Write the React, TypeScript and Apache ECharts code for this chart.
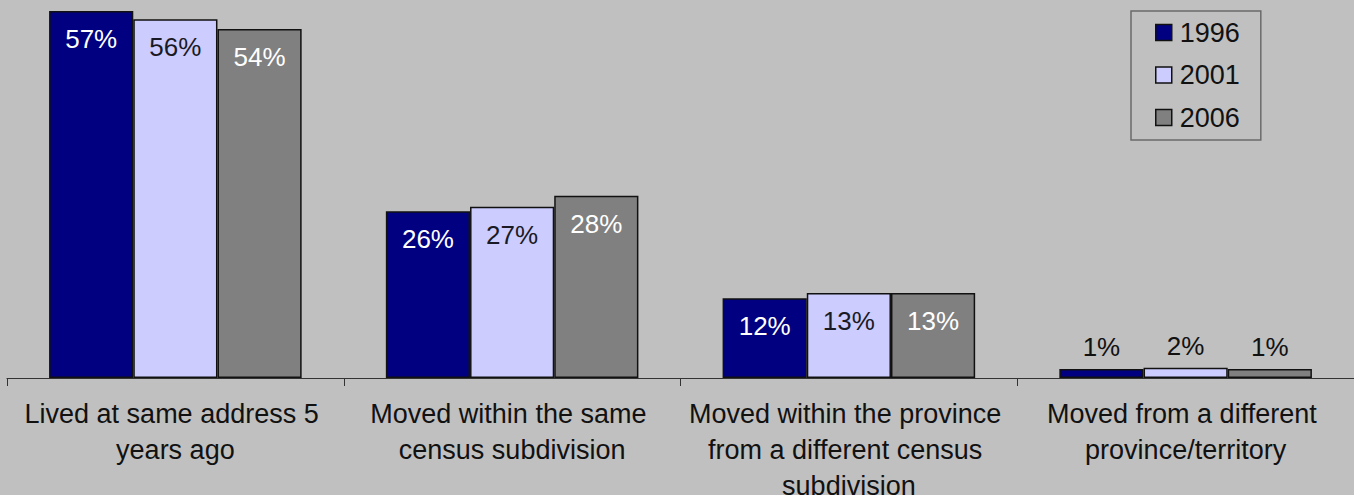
import React, { useEffect, useRef } from "react";
import * as echarts from "echarts";

const categories = [
  "Lived at same address 5 years ago",
  "Moved within the same census subdivision",
  "Moved within the province from a different census subdivision",
  "Moved from a different province/territory",
];
const years = ["1996", "2001", "2006"];
const values1996 = [57, 25.9, 12.4, 1.4];
const values2001 = [55.7, 26.6, 13.2, 1.6];
const values2006 = [54.2, 28.3, 13.2, 1.4];

const seriesValues = [values1996, values2001, values2006];
const colors = ["#000080", "#ccccff", "#808080"];
const labelColors = ["#ffffff", "#1a1a24", "#ffffff"];
const FONT = "'Liberation Sans', Arial, sans-serif";

export default function App() {
  const ref = useRef<HTMLDivElement>(null);
  useEffect(() => {
    if (!ref.current) return;
    const chart = echarts.init(ref.current, undefined, { renderer: "svg" });
    chart.setOption({
      animation: false,
      backgroundColor: "#c0c0c0",
      textStyle: { fontFamily: FONT },
      grid: {
        left: 7,
        right: 0,
        top: 11,
        bottom: 117,
        containLabel: false,
        outerBoundsMode: "none",
      },
      legend: {
        data: years,
        orient: "vertical",
        left: 1131,
        top: 11,
        padding: [8, 21, 9, 24],
        itemGap: 15.5,
        itemWidth: 16,
        itemHeight: 16,
        borderColor: "#6a6a6a",
        borderWidth: 1.5,
        icon: "rect",
        itemStyle: { borderColor: "#111", borderWidth: 1.5 },
        textStyle: {
          fontFamily: FONT,
          fontSize: 27,
          color: "#111",
          padding: [0, 0, 0, 3],
        },
      },
      xAxis: {
        type: "category",
        data: categories,
        axisLine: { show: true, lineStyle: { color: "#333", width: 1.2 } },
        axisTick: { show: true, length: 8, alignWithLabel: false, lineStyle: { color: "#333" } },
        axisLabel: {
          interval: 0,
          fontFamily: FONT,
          fontSize: 27,
          color: "#111",
          margin: 18,
          lineHeight: 36,
          width: 325,
          overflow: "break",
        },
      },
      yAxis: {
        type: "value",
        min: 0,
        max: 57,
        show: false,
        splitLine: { show: false },
      },
      series: years.map((y, i) => ({
        name: y,
        type: "bar",
        barGap: "0%",
        barCategoryGap: "25%",
        itemStyle: { color: colors[i], borderColor: "#111", borderWidth: 1.5 },
        label: {
          show: true,
          position: "insideTop",
          distance: 15,
          fontFamily: FONT,
          fontSize: 26,
          color: labelColors[i],
          formatter: (p: any) => Math.round(p.value) + "%",
        },
        data: seriesValues[i].map((v) =>
          v < 5
            ? { value: v, label: { position: "top", distance: 9, color: "#111" } }
            : v
        ),
      })),
    });
    return () => chart.dispose();
  }, []);
  return (
    <div
      ref={ref}
      style={{ position: "fixed", left: 0, top: 0, width: 1354, height: 495 }}
    />
  );
}
